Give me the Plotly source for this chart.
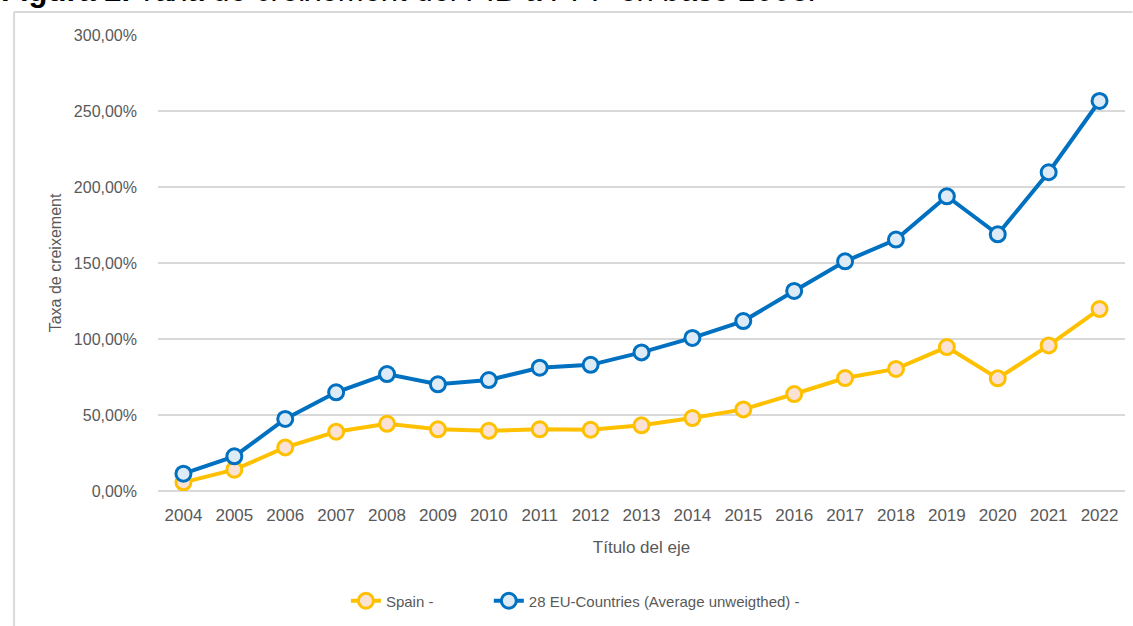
import plotly.graph_objects as go

# Data (growth rate, %)
years = [str(y) for y in range(2004, 2023)]
spain = [5.7, 14.0, 28.7, 39.0, 44.2, 40.6, 39.6, 40.6, 40.3, 43.2, 48.0, 53.7,
         63.8, 74.3, 80.3, 94.7, 74.1, 95.8, 119.7]
eu28 = [11.4, 22.8, 47.4, 64.9, 76.9, 70.2, 73.0, 81.1, 83.0, 91.2, 100.7, 111.8,
        131.6, 151.1, 165.4, 193.9, 168.9, 209.7, 256.6]

COLORS = {
    'spain': '#FFC000',
    'spain_fill': '#FBE2D5',
    'eu': '#0070C0',
    'eu_fill': '#DDEBF7',
    'grid': '#D9D9D9',
    'text': '#595959',
}
FONT = "Liberation Sans, Arial, sans-serif"

W, H = 1133, 626
L, R, T, B = 158, 7.5, 35, 135
plot_w = W - L - R
plot_h = H - T - B
legend_y = -(601 - (T + plot_h)) / plot_h

fig = go.Figure()

fig.add_trace(go.Scatter(
    x=years, y=spain, name="Spain -", mode="lines+markers", legend="legend",
    line=dict(color=COLORS['spain'], width=4),
    marker=dict(size=15, color=COLORS['spain_fill'],
                line=dict(color=COLORS['spain'], width=3))
))
fig.add_trace(go.Scatter(
    x=years, y=eu28, name="28 EU-Countries (Average unweigthed) -", mode="lines+markers",
    legend="legend2",
    line=dict(color=COLORS['eu'], width=4),
    marker=dict(size=15, color=COLORS['eu_fill'],
                line=dict(color=COLORS['eu'], width=3))
))

legend_style = dict(orientation="h", xanchor="left", y=legend_y, yanchor="middle",
                    font=dict(size=15, color=COLORS['text']), bgcolor="rgba(0,0,0,0)")

fig.update_layout(
    width=W, height=H,
    margin=dict(l=L, r=R, t=T, b=B),
    plot_bgcolor="white", paper_bgcolor="white",
    separators=", ",
    font=dict(family=FONT, size=16, color=COLORS['text']),
    showlegend=True,
    legend=dict(x=(346 - L) / plot_w, **legend_style),
    legend2=dict(x=(489 - L) / plot_w, **legend_style),
)

fig.update_xaxes(
    type="category", range=[-0.5, len(years) - 0.5],
    showgrid=False, showline=False, ticks="", ticklabelstandoff=12,
    tickfont=dict(size=17, color=COLORS['text']),
    title=dict(text="Título del eje", font=dict(size=17, color=COLORS['text']), standoff=17),
)
fig.update_yaxes(
    range=[0, 300], dtick=50, tickformat=".2f", ticksuffix="%",
    showgrid=True, gridcolor=COLORS['grid'], gridwidth=1.5,
    zeroline=True, zerolinecolor=COLORS['grid'], zerolinewidth=1.5,
    showline=False, ticks="", ticklabelstandoff=20,
    tickfont=dict(size=16, color=COLORS['text']),
    title=dict(text="Taxa de creixement", font=dict(size=16, color=COLORS['text']), standoff=8),
)

# chart frame (left and top border, the rest runs off the picture)
fig.add_shape(type="line", xref="paper", yref="paper",
              x0=(14 - L) / plot_w, x1=(14 - L) / plot_w,
              y0=(T + plot_h - H) / plot_h, y1=(T + plot_h - 12) / plot_h,
              line=dict(color=COLORS['grid'], width=2))
fig.add_shape(type="line", xref="paper", yref="paper",
              x0=(14 - L) / plot_w, x1=(W - L) / plot_w,
              y0=(T + plot_h - 12) / plot_h, y1=(T + plot_h - 12) / plot_h,
              line=dict(color=COLORS['grid'], width=2))

# figure caption, cut off at the top of the picture
fig.add_annotation(
    xref="paper", yref="paper", x=0, y=1, xanchor="left", yanchor="bottom",
    xshift=-L - 1, yshift=T - 10,
    text="<b>Figura 2.</b> <i>Taxa de creixement del PIB a PPP en base 2003.</i>",
    showarrow=False, font=dict(family=FONT, size=31, color="black"),
)

# the page body has a default 8px margin; drop it so the figure sits at 0,0
fig.write_html("out.html", config={"displayModeBar": False},
               post_script="document.body.style.margin='0';")
